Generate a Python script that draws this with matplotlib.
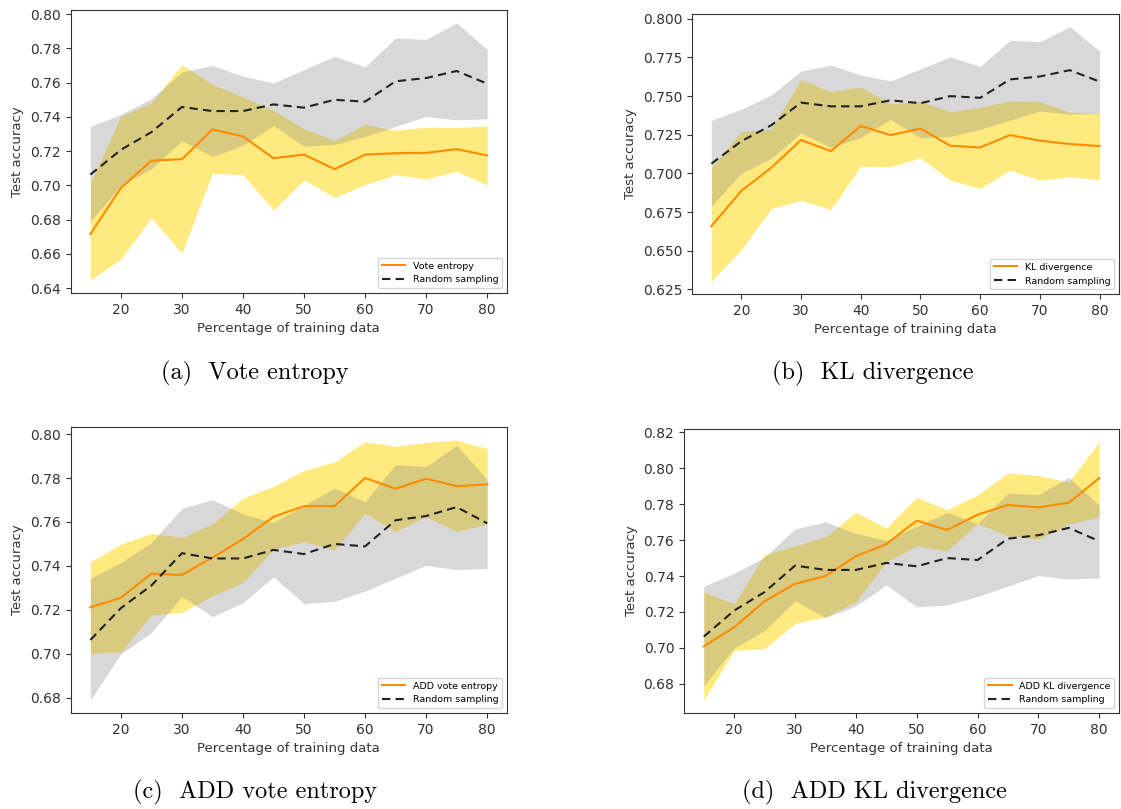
import matplotlib
matplotlib.use("Agg")
import matplotlib.pyplot as plt
import numpy as np

W, H = 1121, 809

pct = [15, 20, 25, 30, 35, 40, 45, 50, 55, 60, 65, 70, 75, 80]

# Random sampling (same baseline in every panel)
rand_mean = [0.7063, 0.7208, 0.7311, 0.7458, 0.7434, 0.7434, 0.7473, 0.7454,
             0.7500, 0.7489, 0.7608, 0.7627, 0.7668, 0.7594]
rand_hi = [0.7344, 0.7415, 0.7506, 0.7662, 0.7701, 0.7637, 0.7598, 0.7676,
           0.7754, 0.7692, 0.7861, 0.7852, 0.7949, 0.7793]
rand_lo = [0.6790, 0.7000, 0.7097, 0.7262, 0.7169, 0.7233, 0.7350, 0.7229,
           0.7239, 0.7286, 0.7344, 0.7403, 0.7383, 0.7389]

# (a) Vote entropy
ve_mean = [0.6716, 0.6985, 0.7145, 0.7153, 0.7327, 0.7286, 0.7159, 0.7180,
           0.7095, 0.7180, 0.7188, 0.7190, 0.7212, 0.7175]
ve_hi = [0.7013, 0.7403, 0.7481, 0.7705, 0.7590, 0.7516, 0.7438, 0.7331,
         0.7262, 0.7356, 0.7321, 0.7340, 0.7337, 0.7348]
ve_lo = [0.6447, 0.6570, 0.6810, 0.6605, 0.7071, 0.7063, 0.6857, 0.7032,
         0.6931, 0.7003, 0.7063, 0.7038, 0.7083, 0.7003]

# (b) KL divergence
kl_mean = [0.6659, 0.6887, 0.7036, 0.7216, 0.7144, 0.7307, 0.7248, 0.7290,
           0.7179, 0.7168, 0.7248, 0.7212, 0.7190, 0.7177]
kl_hi = [0.7036, 0.7270, 0.7285, 0.7606, 0.7530, 0.7558, 0.7450, 0.7465,
         0.7400, 0.7428, 0.7469, 0.7465, 0.7396, 0.7389]
kl_lo = [0.6302, 0.6506, 0.6772, 0.6826, 0.6765, 0.7047, 0.7043, 0.7101,
         0.6956, 0.6902, 0.7021, 0.6956, 0.6978, 0.6960]

# (c) ADD vote entropy
ave_mean = [0.7212, 0.7255, 0.7365, 0.7359, 0.7438, 0.7522, 0.7624, 0.7672,
            0.7672, 0.7800, 0.7751, 0.7797, 0.7763, 0.7771]
ave_hi = [0.7418, 0.7499, 0.7548, 0.7530, 0.7591, 0.7708, 0.7762, 0.7835,
          0.7873, 0.7965, 0.7945, 0.7962, 0.7973, 0.7934]
ave_lo = [0.7003, 0.7008, 0.7176, 0.7189, 0.7263, 0.7324, 0.7476, 0.7511,
          0.7472, 0.7640, 0.7557, 0.7624, 0.7557, 0.7591]

# (d) ADD KL divergence
akl_mean = [0.7009, 0.7115, 0.7260, 0.7357, 0.7400, 0.7510, 0.7577, 0.7708,
            0.7656, 0.7741, 0.7795, 0.7782, 0.7808, 0.7945]
akl_hi = [0.7311, 0.7245, 0.7518, 0.7568, 0.7618, 0.7754, 0.7667, 0.7838,
          0.7769, 0.7851, 0.7973, 0.7960, 0.7922, 0.8146]
akl_lo = [0.6710, 0.6986, 0.6996, 0.7137, 0.7173, 0.7257, 0.7480, 0.7568,
          0.7540, 0.7693, 0.7624, 0.7605, 0.7689, 0.7730]

panels = [
    ("Vote entropy", ve_mean, ve_lo, ve_hi, "(a)  Vote entropy", (70.5, 507, 10, 293), (255, 373)),
    ("KL divergence", kl_mean, kl_lo, kl_hi, "(b)  KL divergence", (692, 1119, 14, 294), (873, 373)),
    ("ADD vote entropy", ave_mean, ave_lo, ave_hi, "(c)  ADD vote entropy", (70.5, 507, 427, 713), (255, 792)),
    ("ADD KL divergence", akl_mean, akl_lo, akl_hi, "(d)  ADD KL divergence", (684, 1119, 429, 713), (874, 792)),
]

fig = plt.figure(figsize=(W / 100, H / 100), dpi=100)
fig.patch.set_facecolor("white")

tick_color = "#333333"

for label, m, lo, hi, cap, (l, r, t, b), (cx, cy) in panels:
    ax = fig.add_axes([l / W, 1 - b / H, (r - l) / W, (b - t) / H])
    ax.fill_between(pct, lo, hi, color="gold", alpha=0.5, linewidth=0)
    ax.fill_between(pct, rand_lo, rand_hi, color="grey", alpha=0.3, linewidth=0)
    ax.plot(pct, m, color="darkorange", lw=1.5, label=label)
    ax.plot(pct, rand_mean, color="#222222", lw=1.5, ls="--", dashes=(4, 2.5),
            label="Random sampling")
    ax.set_xticks([20, 30, 40, 50, 60, 70, 80])
    ax.tick_params(labelsize=10, colors=tick_color)
    for sp in ax.spines.values():
        sp.set_color("#333333")
    ax.set_xlabel("Percentage of training data", fontsize=9.5, color=tick_color)
    ax.set_ylabel("Test accuracy", fontsize=9.5, color=tick_color)
    ax.legend(loc="lower right", fontsize=6.8, handlelength=2.5, framealpha=0.8)
    fig.text(cx / W, 1 - cy / H, cap, family="cmr10", fontsize=17.5,
             ha="center", va="center")

fig.savefig("out.png", dpi=100)
